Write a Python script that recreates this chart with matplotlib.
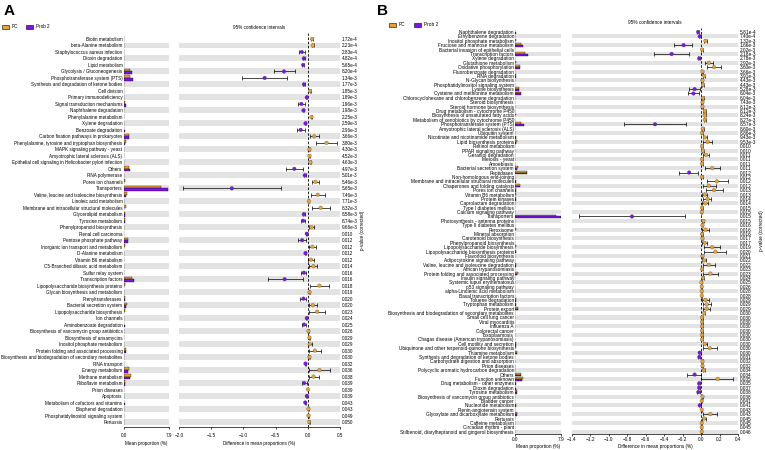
import matplotlib as mpl
mpl.use("Agg")
import matplotlib.pyplot as plt
from matplotlib.patches import Patch
import numpy as np

plt.rcParams["font.family"] = ["Liberation Sans", "DejaVu Sans"]

PC_COLOR = "#E9A23B"
PROB_COLOR = "#7D14E6"
BAND_COLOR = "#E3E3E3"

# ---------------- panel A ----------------
a_labels = [
    "Biotin metabolism", "beta-Alanine metabolism", "Staphylococcus aureus infection",
    "Dioxin degradation", "Lipid metabolism", "Glycolysis / Gluconeogenesis",
    "Phosphotransferase system (PTS)", "Synthesis and degradation of ketone bodies",
    "Cell division", "Primary immunodeficiency", "Signal transduction mechanisms",
    "Naphthalene degradation", "Phenylalanine metabolism", "Xylene degradation",
    "Benzoate degradation", "Carbon fixation pathways in prokaryotes",
    "Phenylalanine, tyrosine and tryptophan biosynthesis", "MAPK signaling pathway - yeast",
    "Amyotrophic lateral sclerosis (ALS)",
    "Epithelial cell signaling in Helicobacter pylori infection", "Others",
    "RNA polymerase", "Pores ion channels", "Transporters",
    "Valine, leucine and isoleucine biosynthesis", "Linoleic acid metabolism",
    "Membrane and intracellular structural molecules", "Glycerolipid metabolism",
    "Tyrosine metabolism", "Phenylpropanoid biosynthesis", "Renal cell carcinoma",
    "Pentose phosphate pathway", "Inorganic ion transport and metabolism",
    "D-Alanine metabolism", "Vitamin B6 metabolism", "C5-Branched dibasic acid metabolism",
    "Sulfur relay system", "Transcription factors", "Lipopolysaccharide biosynthesis proteins",
    "Glycan biosynthesis and metabolism", "Prenyltransferases", "Bacterial secretion system",
    "Lipopolysaccharide biosynthesis", "Ion channels", "Aminobenzoate degradation",
    "Biosynthesis of vancomycin group antibiotics", "Biosynthesis of ansamycins",
    "Inositol phosphate metabolism", "Protein folding and associated processing",
    "Biosynthesis and biodegradation of secondary metabolites", "RNA transport",
    "Energy metabolism", "Methane metabolism", "Riboflavin metabolism", "Prion diseases",
    "Apoptosis", "Metabolism of cofactors and vitamins", "Bisphenol degradation",
    "Phosphatidylinositol signaling system", "Pertussis",
]
a_pvals = [
    "1.72e-4", "2.23e-4", "2.83e-4", "4.82e-4", "5.65e-4", "8.20e-4", "1.34e-3", "1.77e-3", "1.85e-3", "1.89e-3",
    "1.96e-3", "1.98e-3", "2.25e-3", "2.59e-3", "2.96e-3", "3.66e-3", "3.80e-3", "4.30e-3", "4.52e-3", "4.63e-3",
    "4.97e-3", "5.01e-3", "5.46e-3", "5.65e-3", "7.46e-3", "7.71e-3", "8.32e-3", "8.58e-3", "8.74e-3", "9.66e-3",
    "0.010", "0.012", "0.012", "0.012", "0.012", "0.014", "0.016", "0.016", "0.018", "0.019",
    "0.020", "0.020", "0.023", "0.024", "0.025", "0.026", "0.029", "0.029", "0.030", "0.030",
    "0.032", "0.036", "0.038", "0.039", "0.039", "0.039", "0.043", "0.043", "0.049", "0.050",
]
a_pc = [0.05, 0.15, 0.05, 0.1, 0.1, 1.1, 1.2, 0.05, 0.05, 0.03,
        0.25, 0.1, 0.08, 0.03, 0.15, 0.95, 0.5, 0.04, 0.04, 0.05,
        0.9, 0.1, 0.2, 6.5, 0.6, 0.03, 0.35, 0.25, 0.2, 0.15,
        0.03, 0.7, 0.2, 0.08, 0.12, 0.15, 0.1, 1.5, 0.3, 0.05,
        0.2, 0.55, 0.25, 0.05, 0.15, 0.05, 0.04, 0.06, 0.5, 0.06,
        0.1, 0.9, 1.3, 0.2, 0.02, 0.03, 0.15, 0.05, 0.05, 0.03]
a_prob = [0.05, 0.1, 0.1, 0.15, 0.15, 1.5, 1.7, 0.08, 0.02, 0.04,
          0.35, 0.15, 0.05, 0.05, 0.25, 0.9, 0.3, 0.02, 0.02, 0.02,
          1.1, 0.15, 0.1, 7.7, 0.45, 0.01, 0.15, 0.3, 0.3, 0.1,
          0.04, 0.8, 0.15, 0.12, 0.08, 0.08, 0.15, 1.85, 0.15, 0.03,
          0.25, 0.45, 0.1, 0.06, 0.2, 0.03, 0.02, 0.03, 0.4, 0.03,
          0.12, 0.7, 1.2, 0.25, 0.01, 0.04, 0.18, 0.03, 0.03, 0.01]
a_diff = [0.067, 0.078, -0.093, -0.062, -0.072, -0.37, -0.67, -0.06, 0.036, -0.016,
          -0.10, -0.067, 0.057, -0.036, -0.11, 0.10, 0.29, 0.026, 0.026, 0.04,
          -0.21, -0.047, 0.12, -1.18, 0.155, 0.016, 0.20, -0.062, -0.072, 0.057,
          -0.016, -0.088, 0.072, -0.036, 0.05, 0.088, -0.06, -0.36, 0.18, 0.026,
          -0.067, 0.078, 0.145, -0.016, -0.06, 0.01, 0.026, 0.03, 0.11, 0.026,
          -0.036, 0.18, 0.088, -0.057, 0.003, -0.015, -0.04, 0.01, 0.01, 0.02]
a_lo = [0.055, 0.062, -0.14, -0.075, -0.085, -0.53, -1.02, -0.07, 0.028, -0.022,
        -0.15, -0.08, 0.045, -0.045, -0.17, 0.035, 0.12, 0.018, 0.02, 0.03,
        -0.34, -0.06, 0.06, -1.94, 0.05, 0.01, 0.07, -0.08, -0.105, 0.015,
        -0.022, -0.15, 0.025, -0.05, 0.005, 0.025, -0.10, -0.62, 0.036, 0.018,
        -0.12, 0.015, 0.025, -0.022, -0.09, 0.004, 0.018, 0.005, 0.016, 0.018,
        -0.048, 0.016, 0.016, -0.095, -0.003, -0.022, -0.05, 0.004, 0.004, 0.012]
a_hi = [0.08, 0.094, -0.05, -0.05, -0.06, -0.20, -0.32, -0.05, 0.044, -0.01,
        -0.05, -0.054, 0.07, -0.027, -0.05, 0.17, 0.46, 0.034, 0.032, 0.05,
        -0.08, -0.034, 0.18, -0.41, 0.26, 0.022, 0.34, -0.045, -0.04, 0.10,
        -0.01, -0.025, 0.12, -0.022, 0.10, 0.15, -0.025, -0.08, 0.33, 0.034,
        -0.025, 0.14, 0.26, -0.01, -0.025, 0.016, 0.034, 0.06, 0.20, 0.034,
        -0.024, 0.35, 0.17, -0.02, 0.009, -0.008, -0.03, 0.016, 0.016, 0.028]
a_xticks = [-2.0, -1.5, -1.0, -0.5, 0.0, 0.5]

# ---------------- panel B ----------------
b_labels = [
    "Naphthalene degradation", "Ethylbenzene degradation", "Inositol phosphate metabolism",
    "Fructose and mannose metabolism", "Bacterial invasion of epithelial cells",
    "Transcription factors", "Xylene degradation", "Glutathione metabolism",
    "Oxidative phosphorylation", "Fluorobenzoate degradation", "RNA degradation",
    "N-Glycan biosynthesis", "Phosphatidylinositol signaling system", "Lysine biosynthesis",
    "Cysteine and methionine metabolism", "Chlorocyclohexane and chlorobenzene degradation",
    "Steroid biosynthesis", "Steroid hormone biosynthesis", "Drug metabolism - cytochrome P450",
    "Biosynthesis of unsaturated fatty acids", "Metabolism of xenobiotics by cytochrome P450",
    "Phosphotransferase system (PTS)", "Amyotrophic lateral sclerosis (ALS)", "Ubiquitin system",
    "Nicotinate and nicotinamide metabolism", "Lipid biosynthesis proteins", "Retinol metabolism",
    "PPAR signaling pathway", "Geraniol degradation", "Meiosis - yeast", "Amoebiasis",
    "Bacterial secretion system", "Peptidases", "Non-homologous end-joining",
    "Membrane and intracellular structural molecules", "Chaperones and folding catalysts",
    "Pores ion channels", "Vitamin B6 metabolism", "Protein kinases", "Caprolactam degradation",
    "Type I diabetes mellitus", "Calcium signaling pathway", "Transporters",
    "Photosynthesis - antenna proteins", "Type II diabetes mellitus", "Peroxisome",
    "Mineral absorption", "Carotenoid biosynthesis", "Phenylpropanoid biosynthesis",
    "Lipopolysaccharide biosynthesis", "Lipopolysaccharide biosynthesis proteins",
    "Flavonoid biosynthesis", "Adipocytokine signaling pathway",
    "Valine, leucine and isoleucine degradation", "African trypanosomiasis",
    "Protein folding and associated processing", "Insulin signaling pathway",
    "Systemic lupus erythematosus", "p53 signaling pathway", "alpha-Linolenic acid metabolism",
    "Basal transcription factors", "Toluene degradation", "Tryptophan metabolism",
    "Protein export", "Biosynthesis and biodegradation of secondary metabolites",
    "Small cell lung cancer", "Viral myocarditis", "Influenza A", "Colorectal cancer",
    "Toxoplasmosis", "Chagas disease (American trypanosomiasis)", "Cell motility and secretion",
    "Ubiquinone and other terpenoid-quinone biosynthesis", "Thiamine metabolism",
    "Synthesis and degradation of ketone bodies", "Carbohydrate digestion and absorption",
    "Prion diseases", "Polycyclic aromatic hydrocarbon degradation", "Others",
    "Function unknown", "Drug metabolism - other enzymes", "Dioxin degradation",
    "Tyrosine metabolism", "Biosynthesis of vancomycin group antibiotics", "Bladder cancer",
    "Nucleotide metabolism", "Renin-angiotensin system",
    "Glyoxylate and dicarboxylate metabolism", "Pertussis", "Caffeine metabolism",
    "Circadian rhythm - plant", "Stilbenoid, diarylheptanoid and gingerol biosynthesis",
]
b_pvals = [
    "5.81e-4", "7.40e-4", "1.32e-3", "1.66e-3", "2.02e-3", "2.18e-3", "2.78e-3", "2.92e-3", "3.60e-3", "3.66e-3",
    "3.91e-3", "4.43e-3", "4.43e-3", "5.28e-3", "6.04e-3", "6.04e-3", "7.43e-3", "8.12e-3", "8.12e-3", "8.24e-3",
    "8.27e-3", "8.57e-3", "8.60e-3", "8.86e-3", "9.43e-3", "9.53e-3", "0.010", "0.010", "0.011", "0.011",
    "0.011", "0.011", "0.012", "0.012", "0.012", "0.012", "0.013", "0.013", "0.014", "0.014",
    "0.015", "0.015", "0.015", "0.015", "0.016", "0.016", "0.016", "0.017", "0.017", "0.019",
    "0.020", "0.021", "0.022", "0.022", "0.023", "0.023", "0.024", "0.025", "0.026", "0.028",
    "0.028", "0.029", "0.029", "0.029", "0.030", "0.030", "0.030", "0.030", "0.030", "0.030",
    "0.030", "0.030", "0.030", "0.030", "0.031", "0.032", "0.032", "0.034", "0.034", "0.035",
    "0.035", "0.037", "0.038", "0.038", "0.041", "0.041", "0.043", "0.043", "0.045", "0.045",
    "0.045", "0.046",
]
b_pc = [0.08, 0.05, 0.1, 1.0, 0.02, 1.7, 0.05, 0.15, 0.9, 0.03,
        0.2, 0.03, 0.05, 0.7, 1.0, 0.04, 0.03, 0.03, 0.05, 0.1,
        0.05, 1.1, 0.03, 0.03, 0.2, 0.3, 0.02, 0.03, 0.05, 0.02,
        0.02, 0.5, 2.0, 0.03, 0.25, 0.9, 0.2, 0.1, 0.15, 0.08,
        0.02, 0.02, 7.0, 0.05, 0.02, 0.1, 0.02, 0.03, 0.08, 0.1,
        0.25, 0.02, 0.05, 0.2, 0.02, 0.45, 0.04, 0.01, 0.02, 0.02,
        0.03, 0.15, 0.15, 0.6, 0.06, 0.01, 0.01, 0.01, 0.01, 0.01,
        0.01, 0.15, 0.15, 0.3, 0.05, 0.03, 0.03, 0.05, 1.0, 1.3,
        0.1, 0.08, 0.3, 0.05, 0.01, 0.15, 0.01, 0.35, 0.05, 0.01,
        0.01, 0.01]
b_prob = [0.12, 0.07, 0.06, 1.3, 0.01, 2.2, 0.07, 0.08, 0.8, 0.02,
          0.18, 0.02, 0.03, 0.75, 1.1, 0.02, 0.02, 0.02, 0.03, 0.07,
          0.03, 1.6, 0.02, 0.02, 0.17, 0.2, 0.01, 0.02, 0.02, 0.01,
          0.01, 0.4, 2.1, 0.02, 0.12, 0.85, 0.1, 0.07, 0.1, 0.04,
          0.01, 0.01, 7.85, 0.03, 0.01, 0.06, 0.01, 0.02, 0.05, 0.05,
          0.12, 0.01, 0.03, 0.14, 0.01, 0.4, 0.03, 0.01, 0.01, 0.01,
          0.02, 0.1, 0.1, 0.5, 0.04, 0.005, 0.005, 0.005, 0.005, 0.005,
          0.005, 0.12, 0.08, 0.4, 0.07, 0.02, 0.02, 0.04, 1.1, 1.2,
          0.12, 0.1, 0.4, 0.04, 0.005, 0.2, 0.005, 0.3, 0.03, 0.005,
          0.005, 0.005]
b_diff = [-0.033, -0.015, 0.047, -0.19, 0.01, -0.32, -0.02, 0.083, 0.14, 0.015,
          0.033, 0.015, 0.02, -0.07, -0.083, 0.02, 0.015, 0.015, 0.04, 0.04,
          0.04, -0.50, 0.018, 0.01, 0.04, 0.07, 0.01, 0.02, 0.055, 0.01,
          0.01, 0.12, -0.13, 0.01, 0.17, 0.083, 0.14, 0.04, 0.07, 0.047,
          0.01, 0.007, -0.75, 0.025, 0.015, 0.047, 0.01, 0.015, 0.04, 0.12,
          0.155, 0.015, 0.033, 0.083, 0.01, 0.10, 0.02, 0.004, 0.007, 0.007,
          0.007, 0.047, 0.06, 0.06, 0.033, 0.01, 0.01, 0.01, 0.01, 0.01,
          0.01, 0.04, 0.094, -0.015, -0.02, 0.015, 0.015, 0.03, -0.07, 0.18,
          -0.022, -0.022, -0.03, 0.015, 0.007, -0.015, 0.007, 0.10, 0.033, 0.007,
          0.007, 0.007]
b_lo = [-0.045, -0.025, 0.035, -0.29, 0.004, -0.51, -0.03, 0.04, 0.06, 0.008,
        0.02, 0.008, 0.01, -0.127, -0.14, 0.01, 0.008, 0.008, 0.025, 0.028,
        0.028, -0.84, 0.01, 0.004, 0.02, 0.02, 0.004, 0.01, 0.02, 0.004,
        0.004, 0.04, -0.24, 0.004, 0.06, 0.02, 0.05, 0.015, 0.02, 0.015,
        0.004, 0.002, -1.32, 0.015, 0.008, 0.01, 0.004, 0.008, 0.015, 0.03,
        0.03, 0.008, 0.01, 0.02, 0.004, 0.02, 0.01, -0.002, 0.002, 0.002,
        0.002, 0.015, 0.02, 0.02, 0.02, 0.004, 0.004, 0.004, 0.004, 0.004,
        0.004, 0.02, 0.02, -0.025, -0.03, 0.008, 0.008, 0.018, -0.15, 0.004,
        -0.032, -0.032, -0.045, 0.008, 0.002, -0.025, 0.002, 0.02, 0.01, 0.002,
        0.002, 0.002]
b_hi = [-0.02, -0.005, 0.06, -0.1, 0.016, -0.13, -0.01, 0.13, 0.22, 0.022,
        0.045, 0.022, 0.03, -0.015, -0.025, 0.03, 0.022, 0.022, 0.055, 0.052,
        0.052, -0.16, 0.026, 0.016, 0.06, 0.12, 0.016, 0.03, 0.09, 0.016,
        0.016, 0.2, -0.03, 0.016, 0.29, 0.16, 0.24, 0.065, 0.11, 0.08,
        0.016, 0.012, -0.18, 0.035, 0.022, 0.085, 0.016, 0.022, 0.068, 0.2,
        0.27, 0.022, 0.05, 0.15, 0.016, 0.18, 0.03, 0.01, 0.012, 0.012,
        0.012, 0.085, 0.11, 0.095, 0.045, 0.016, 0.016, 0.016, 0.016, 0.016,
        0.016, 0.06, 0.17, -0.005, -0.01, 0.022, 0.022, 0.042, -0.005, 0.35,
        -0.012, -0.012, -0.015, 0.022, 0.012, -0.005, 0.012, 0.17, 0.058, 0.012,
        0.012, 0.012]
b_xticks = [-1.4, -1.2, -1.0, -0.8, -0.6, -0.4, -0.2, 0.0, 0.2, 0.4]

W, H = 765, 450


def px_axes(fig, left, top, right, bottom):
    return fig.add_axes([left / W, 1 - bottom / H, (right - left) / W, (bottom - top) / H])


def draw_panel(fig, letter, g, labels, pvals, pc, prob, diff, lo, hi, xticks):
    n = len(labels)
    y = np.arange(n)
    fs = g["fs"]
    ylim = (n - 1 + (g["bottom"] - g["last"]) / g["step"], -(g["first"] - g["top"]) / g["step"])

    ax_bar = px_axes(fig, g["bar_l"], g["top"], g["bar_r"], g["bottom"])
    ax_diff = px_axes(fig, g["diff_l"], g["top"], g["diff_r"], g["bottom"])

    for ax in (ax_bar, ax_diff):
        for i in range(1, n, 2):
            ax.axhspan(i - 0.46, i + 0.46, color=BAND_COLOR, lw=0, zorder=0)
        ax.set_ylim(*ylim)
        for s in ("top", "right", "left"):
            ax.spines[s].set_visible(False)
        ax.spines["bottom"].set_linewidth(0.5)
        ax.tick_params(axis="x", length=1.5, width=0.5, labelsize=fs, pad=g["tick_pad"])

    # mean proportions
    ax_bar.barh(y - 0.2, pc, height=0.4, color=PC_COLOR, edgecolor="black", linewidth=0.25)
    ax_bar.barh(y + 0.2, prob, height=0.4, color=PROB_COLOR, edgecolor="black", linewidth=0.25)
    ax_bar.set_xlim(0, 7.9)
    ax_bar.set_xticks([0, 7.9])
    ax_bar.set_xticklabels(["0.0", "7.9"])
    ax_bar.set_yticks(y)
    ax_bar.set_yticklabels(labels, fontsize=fs)
    ax_bar.tick_params(axis="y", length=0, pad=0.8)
    ax_bar.set_xlabel("Mean proportion (%)", fontsize=fs, labelpad=g["label_pad"])

    # difference with 95% CI
    diff = np.asarray(diff)
    err = [diff - np.asarray(lo), np.asarray(hi) - diff]
    ax_diff.axvline(0, color="black", ls=(0, (3, 2)), lw=0.6, zorder=1)
    ax_diff.errorbar(diff, y, xerr=err, fmt="none", ecolor="black",
                     elinewidth=0.5, capsize=1.2, capthick=0.5, zorder=2)
    colors = [PC_COLOR if d > 0 else PROB_COLOR for d in diff]
    ax_diff.scatter(diff, y, s=7, c=colors, edgecolors="#444444", linewidths=0.2, zorder=3)
    ax_diff.set_xlim(xticks[0], xticks[-1])
    ax_diff.set_xticks(xticks)
    ax_diff.set_xticklabels([f"{t:.1f}".replace("-", "\u2212") for t in xticks])
    ax_diff.set_yticks([])
    ax_diff.set_xlabel("Difference in mean proportions (%)", fontsize=fs, labelpad=g["label_pad"])
    ax_diff.set_title("95% confidence intervals", fontsize=fs, pad=3.2)

    # corrected p-values on the right
    ax_p = ax_diff.twinx()
    ax_p.set_ylim(*ylim)
    ax_p.set_yticks(y)
    ax_p.set_yticklabels(pvals, fontsize=fs)
    ax_p.tick_params(axis="y", length=0, pad=1.4)
    for s in ax_p.spines.values():
        s.set_visible(False)
    ax_p.set_ylabel("p-value (corrected)", fontsize=fs, labelpad=1.5)

    fig.text(g["letter_x"] / W, 1 - 11 / H, letter, fontsize=11, weight="bold",
             ha="left", va="center")
    handles = [Patch(facecolor=PC_COLOR, edgecolor="black", linewidth=0.4, label="PC"),
               Patch(facecolor=PROB_COLOR, edgecolor="black", linewidth=0.4, label="Prob 2")]
    fig.legend(handles=handles, loc="center left", bbox_to_anchor=(g["leg_x"] / W, 1 - g["leg_y"] / H),
               ncol=2, frameon=False, fontsize=fs, handlelength=1.5, handleheight=0.7,
               handletextpad=0.6, columnspacing=1.8, borderpad=0, borderaxespad=0)


geom_a = dict(bar_l=123.5, bar_r=169, diff_l=179, diff_r=340, top=33, bottom=427,
              first=39, last=422, step=(422 - 39) / 59, letter_x=4, leg_x=2, leg_y=27,
              tick_pad=3.0, label_pad=2.2, fs=3.3)
geom_b = dict(bar_l=515, bar_r=561, diff_l=572, diff_r=738, top=28, bottom=434,
              first=32, last=431.7, step=(431.7 - 32) / 91, letter_x=377, leg_x=389, leg_y=25,
              tick_pad=1.0, label_pad=1.2, fs=3.45)

fig = plt.figure(figsize=(7.65, 4.5), dpi=100)
draw_panel(fig, "A", geom_a, a_labels, a_pvals, a_pc, a_prob, a_diff, a_lo, a_hi, a_xticks)
draw_panel(fig, "B", geom_b, b_labels, b_pvals, b_pc, b_prob, b_diff, b_lo, b_hi, b_xticks)
fig.savefig("out.png", dpi=100)
